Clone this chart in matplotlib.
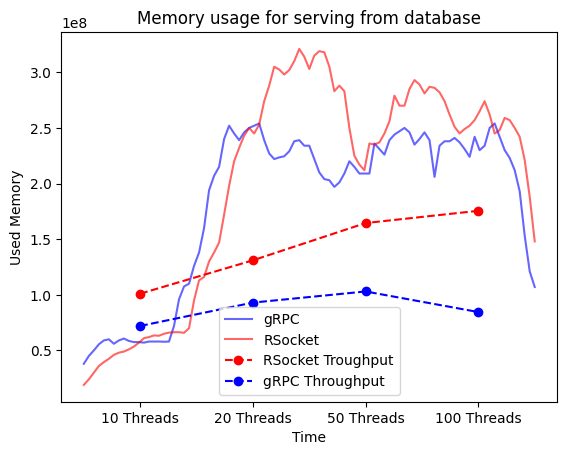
import matplotlib
matplotlib.use("Agg")
import matplotlib.pyplot as plt
import numpy as np

# memory samples (x 1e8 bytes)
grpc_mem = [0.38, 0.45, 0.50, 0.555, 0.59, 0.60, 0.56, 0.59, 0.607, 0.585,
            0.575, 0.575, 0.57, 0.58, 0.58, 0.58, 0.578, 0.58, 0.72, 0.96,
            1.075, 1.10, 1.26, 1.38, 1.60, 1.94, 2.07, 2.15, 2.40, 2.52,
            2.45, 2.39, 2.46, 2.50, 2.52, 2.54, 2.39, 2.27, 2.22, 2.235,
            2.245, 2.29, 2.38, 2.39, 2.34, 2.34, 2.22, 2.10, 2.04, 2.03,
            1.97, 2.01, 2.09, 2.20, 2.15, 2.09, 2.09, 2.09, 2.36, 2.31,
            2.26, 2.39, 2.44, 2.47, 2.50, 2.46, 2.35, 2.40, 2.46, 2.39,
            2.06, 2.34, 2.38, 2.38, 2.41, 2.37, 2.31, 2.24, 2.42, 2.30,
            2.34, 2.50, 2.54, 2.42, 2.30, 2.23, 2.12, 1.93, 1.53, 1.21,
            1.07]
rsocket_mem = [0.19, 0.24, 0.30, 0.36, 0.395, 0.425, 0.46, 0.48, 0.49, 0.51,
               0.535, 0.57, 0.61, 0.62, 0.635, 0.632, 0.65, 0.66, 0.664, 0.664,
               0.658, 0.70, 0.95, 1.13, 1.16, 1.30, 1.38, 1.47, 1.72, 1.98,
               2.20, 2.32, 2.43, 2.50, 2.45, 2.53, 2.74, 2.88, 3.05, 3.025,
               2.98, 3.02, 3.10, 3.21, 3.14, 3.03, 3.15, 3.19, 3.18, 3.05,
               2.83, 2.88, 2.83, 2.50, 2.25, 2.17, 2.12, 2.36, 2.35, 2.37,
               2.45, 2.56, 2.79, 2.70, 2.70, 2.85, 2.93, 2.89, 2.81, 2.87,
               2.86, 2.82, 2.74, 2.62, 2.51, 2.45, 2.49, 2.52, 2.57, 2.65,
               2.74, 2.62, 2.45, 2.48, 2.59, 2.57, 2.50, 2.42, 2.21, 1.88,
               1.48]

threads = ["10 Threads", "20 Threads", "50 Threads", "100 Threads"]
rsocket_tp = [1.01, 1.31, 1.645, 1.755]
grpc_tp = [0.72, 0.93, 1.03, 0.845]

grpc_mem = np.array(grpc_mem) * 1e8
rsocket_mem = np.array(rsocket_mem) * 1e8
rsocket_tp = np.array(rsocket_tp) * 1e8
grpc_tp = np.array(grpc_tp) * 1e8

n = len(grpc_mem)
x = np.arange(n)
# throughput points sit in the middle of each quarter of the run
x_tp = [(n - 1) * (2 * k + 1) / 8 for k in range(len(threads))]

plt.figure(figsize=(6.4, 4.8), dpi=100)
plt.plot(x, grpc_mem, color="blue", alpha=0.6, label="gRPC")
plt.plot(x, rsocket_mem, color="red", alpha=0.6, label="RSocket")
plt.plot(x_tp, rsocket_tp, "ro--", label="RSocket Troughput")
plt.plot(x_tp, grpc_tp, "bo--", label="gRPC Throughput")

plt.xticks(x_tp, threads)
plt.title("Memory usage for serving from database")
plt.xlabel("Time")
plt.ylabel("Used Memory")
plt.legend(loc="lower center")

plt.savefig("out.png", bbox_inches="tight")
